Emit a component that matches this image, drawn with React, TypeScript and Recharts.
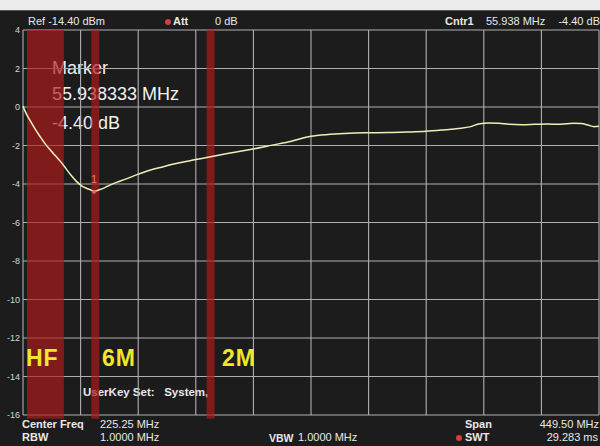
import {
  CartesianGrid,
  ComposedChart,
  Line,
  ReferenceArea,
  ReferenceDot,
  XAxis,
  YAxis,
} from "recharts";

// trace: frequency in MHz, level in dB
const freqs = [
  0.5, 2, 6, 10, 14, 18, 22, 26, 30, 34, 38, 42, 46, 50, 53, 56, 60, 64, 68, 74,
  80, 90, 100, 110, 120, 130, 140, 150, 160, 170, 180, 195, 210, 225, 240, 255,
  270, 285, 300, 315, 330, 340, 350, 356, 364, 372, 380, 390, 400, 410, 420,
  430, 436, 442, 446, 450,
];
const levels = [
  0.05, -0.2, -0.7, -1.15, -1.55, -1.93, -2.25, -2.55, -2.85, -3.2, -3.55,
  -3.85, -4.08, -4.22, -4.3, -4.38, -4.3, -4.2, -4.07, -3.9, -3.76, -3.5, -3.27,
  -3.1, -2.93, -2.8, -2.67, -2.55, -2.42, -2.3, -2.18, -1.98, -1.78, -1.52,
  -1.42, -1.36, -1.34, -1.33, -1.3, -1.26, -1.18, -1.12, -1.02, -0.88, -0.83,
  -0.85, -0.9, -0.92, -0.9, -0.88, -0.9, -0.85, -0.86, -0.95, -1.02, -1.0,
];

// 10 divisions over the 449.5 MHz span
const freqTicks = [
  0.5, 45.45, 90.4, 135.35, 180.3, 225.25, 270.2, 315.15, 360.1, 405.05, 450,
];
const levelTicks = [-16, -14, -12, -10, -8, -6, -4, -2, 0, 2, 4];

// ham bands highlighted in red
const bands = [
  { name: "HF", from: 3.6, to: 32.4 },
  { name: "6M", from: 53.8, to: 60 },
  { name: "2M", from: 143.8, to: 150 },
];

const markerFreq = 55.938333;
const markerLevel = -4.4;

const data = freqs.map((f, i) => ({ f, level: levels[i] }));

const font = "'Liberation Sans', Arial, sans-serif";

function Txt(props: {
  x: number;
  y: number;
  children: any;
  size?: number;
  bold?: boolean;
  color?: string;
  right?: boolean;
  spacing?: number;
}) {
  const { x, y, children, size = 11, bold, color = "#e8e8e8", right, spacing } = props;
  return (
    <div
      style={{
        position: "absolute",
        top: y - size * 0.6,
        left: right ? undefined : x,
        right: right ? 600 - x : undefined,
        fontSize: size,
        lineHeight: `${size * 1.2}px`,
        fontWeight: bold ? 700 : 400,
        letterSpacing: spacing,
        color,
        whiteSpace: "pre",
        fontFamily: font,
      }}
    >
      {children}
    </div>
  );
}

function Dot(props: { x: number; y: number }) {
  return (
    <div
      style={{
        position: "absolute",
        left: props.x - 3,
        top: props.y - 3,
        width: 6,
        height: 6,
        borderRadius: 3,
        background: "#d04040",
      }}
    />
  );
}

export default function App() {
  return (
    <div
      style={{
        position: "absolute",
        left: 0,
        top: 0,
        width: 600,
        height: 446,
        background: "#1c1c1c",
        overflow: "hidden",
        fontFamily: font,
      }}
    >
      <div
        style={{
          position: "absolute",
          left: 0,
          top: 0,
          width: 600,
          height: 10,
          background: "#ececec",
          borderBottom: "1px solid #555",
        }}
      />

      {/* text under the chart, tinted by the bands */}
      <Txt x={52} y={69} size={18} color="#f2f2f2">
        Marker
      </Txt>
      <Txt x={52} y={95} size={18} color="#f2f2f2">
        55.938333 MHz
      </Txt>
      <Txt x={52} y={124} size={18} color="#f2f2f2">
        -4.40 dB
      </Txt>
      <Txt x={83} y={393} size={11.5} bold>
        {"UserKey Set:   System,"}
      </Txt>

      <div style={{ position: "absolute", left: 0, top: 0 }}>
        <ComposedChart
          width={600}
          height={446}
          data={data}
          margin={{ top: 30, right: 1, bottom: 31, left: 0 }}
        >
          <CartesianGrid stroke="#b0b0b0" strokeWidth={1.1} />
          <XAxis
            dataKey="f"
            type="number"
            domain={[0.5, 450]}
            ticks={freqTicks}
            hide
          />
          <YAxis
            type="number"
            domain={[-16, 4]}
            ticks={levelTicks}
            width={23}
            axisLine={false}
            tickLine={false}
            tickSize={3}
            tickMargin={0}
            tick={{ fill: "#d8d8d8", fontSize: 9, fontFamily: font }}
          />
          <Line
            dataKey="level"
            type="monotone"
            stroke="#efeeb8"
            strokeWidth={1.5}
            dot={false}
            isAnimationActive={false}
          />
          {bands.map((b) => (
            <ReferenceArea
              key={b.name}
              x1={b.from}
              x2={b.to}
              y1={-16.2}
              y2={4}
              fill="#b01a1a"
              fillOpacity={0.68}
              stroke="none"
              ifOverflow="visible"
            />
          ))}
          <ReferenceDot
            x={markerFreq}
            y={markerLevel}
            r={2}
            fill="#e06a6a"
            stroke="none"
            label={{
              value: "1",
              position: "top",
              fill: "#e07a7a",
              fontSize: 11,
              offset: 7,
            }}
          />
        </ComposedChart>
      </div>

      {/* band names on top */}
      <Txt x={26} y={359} size={23} bold spacing={1} color="#f2e62a">
        HF
      </Txt>
      <Txt x={102} y={359} size={23} bold spacing={1} color="#f2e62a">
        6M
      </Txt>
      <Txt x={222} y={359} size={23} bold spacing={1} color="#f2e62a">
        2M
      </Txt>

      {/* header */}
      <Txt x={28} y={22} size={11}>
        Ref -14.40 dBm
      </Txt>
      <Dot x={168} y={22} />
      <Txt x={173} y={22} size={11} bold>
        Att
      </Txt>
      <Txt x={215} y={22} size={11}>
        0 dB
      </Txt>
      <Txt x={445} y={22} size={11} bold>
        Cntr1
      </Txt>
      <Txt x={486} y={22} size={11}>
        55.938 MHz
      </Txt>
      <Txt x={600} y={22} size={11} right>
        -4.40 dB
      </Txt>

      {/* footer */}
      <Txt x={22} y={425} size={11} bold>
        Center Freq
      </Txt>
      <Txt x={100} y={425} size={11}>
        225.25 MHz
      </Txt>
      <Txt x={22} y={438} size={11} bold>
        RBW
      </Txt>
      <Txt x={100} y={438} size={11}>
        1.0000 MHz
      </Txt>
      <Txt x={269} y={438} size={10.5} bold>
        VBW
      </Txt>
      <Txt x={298} y={438} size={11}>
        1.0000 MHz
      </Txt>
      <Txt x={465} y={425} size={11} bold>
        Span
      </Txt>
      <Txt x={599} y={425} size={11} right>
        449.50 MHz
      </Txt>
      <Dot x={459} y={438} />
      <Txt x={465} y={438} size={11} bold>
        SWT
      </Txt>
      <Txt x={598} y={438} size={11} right>
        29.283 ms
      </Txt>
    </div>
  );
}
